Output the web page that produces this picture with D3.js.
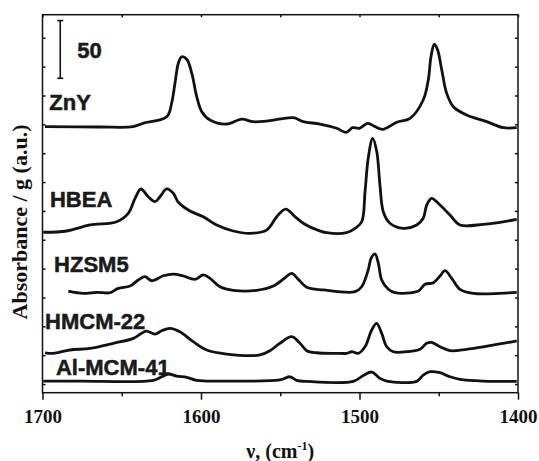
<!DOCTYPE html>
<html>
<head>
<meta charset="utf-8">
<script src="https://cdn.jsdelivr.net/npm/d3@7"></script>
<style>
    body { margin: 0; background: #fff; }
    svg { display: block; }
    .tick line, .domain { stroke: #111; stroke-width: 1.5; }
</style>
</head>
<body>
<svg id="chart" width="539" height="461"></svg>
<script>
"use strict";

// spectra: [wavenumber (cm-1), absorbance incl. stack offset]
var ZnY = [
    [1698.4, 223.0], [1663.7, 222.7], [1642.9, 223.0], [1636.6, 225.9], [1621.6, 231.6],
    [1618.5, 243.5], [1616.4, 260.8], [1614.3, 277.9], [1612.2, 283.6], [1609.0, 281.4],
    [1605.8, 269.2], [1602.7, 249.0], [1599.5, 236.0], [1594.3, 228.8], [1583.8, 225.3],
    [1574.3, 229.6], [1567.2, 227.3], [1556.5, 228.2], [1541.8, 230.8], [1535.5, 227.3],
    [1525.0, 225.3], [1514.4, 221.6], [1508.5, 218.1], [1504.3, 222.1], [1500.1, 221.6],
    [1494.8, 225.9], [1490.2, 223.0], [1485.4, 220.7], [1476.5, 226.8], [1468.1, 230.2],
    [1459.8, 246.1], [1456.6, 263.4], [1454.9, 283.6], [1452.8, 294.4], [1450.7, 289.4],
    [1448.1, 272.1], [1445.0, 251.9], [1440.8, 240.3], [1432.4, 233.1], [1419.8, 227.3],
    [1409.3, 222.1], [1400.8, 222.1]
];
var HBEA = [
    [1699.5, 131.5], [1684.7, 132.6], [1670.0, 137.8], [1653.2, 140.6], [1645.9, 147.9],
    [1641.6, 160.9], [1637.9, 169.0], [1633.3, 162.3], [1629.0, 158.0], [1625.9, 162.3],
    [1621.6, 169.0], [1617.5, 165.3], [1614.3, 157.5], [1606.9, 149.9], [1598.6, 145.0],
    [1590.1, 137.8], [1579.6, 132.6], [1569.1, 130.6], [1558.6, 133.4], [1552.2, 145.0],
    [1546.6, 151.6], [1540.7, 145.0], [1535.5, 139.3], [1529.2, 134.9], [1520.7, 131.1],
    [1508.1, 131.1], [1502.8, 134.9], [1498.6, 140.6], [1496.5, 166.6], [1494.5, 195.6],
    [1491.7, 212.9], [1489.1, 201.3], [1487.1, 172.4], [1485.0, 149.3], [1480.8, 139.3],
    [1472.4, 134.9], [1463.9, 137.8], [1459.8, 143.6], [1457.6, 155.1], [1454.5, 160.9],
    [1449.2, 155.1], [1442.9, 146.4], [1436.6, 137.8], [1421.9, 138.4], [1411.4, 140.1],
    [1400.8, 142.7]
];
var HZSM5 = [
    [1683.7, 80.6], [1674.3, 78.6], [1665.8, 79.5], [1657.4, 79.1], [1652.2, 82.9],
    [1644.8, 84.9], [1639.6, 90.1], [1635.3, 93.0], [1631.1, 89.5], [1623.8, 93.8],
    [1617.5, 95.3], [1611.2, 93.6], [1603.8, 90.7], [1598.6, 94.5], [1594.3, 91.6],
    [1588.0, 84.3], [1579.6, 81.2], [1564.9, 81.2], [1554.4, 84.9], [1547.0, 92.1],
    [1542.8, 95.9], [1538.6, 90.7], [1533.3, 83.8], [1522.8, 81.5], [1502.8, 80.0],
    [1498.6, 84.3], [1494.5, 98.8], [1492.7, 108.9], [1490.2, 112.7], [1488.1, 104.6],
    [1486.0, 90.1], [1481.8, 82.1], [1477.6, 79.1], [1462.9, 80.6], [1458.7, 86.4],
    [1453.4, 87.8], [1449.2, 93.6], [1446.1, 98.2], [1441.8, 91.6], [1436.6, 82.1],
    [1428.2, 78.6], [1411.4, 78.6], [1400.8, 79.5]
];
var HMCM22 = [
    [1698.4, 27.1], [1693.2, 26.6], [1682.7, 29.5], [1670.0, 30.9], [1655.3, 35.3],
    [1642.7, 39.6], [1638.5, 43.1], [1634.7, 45.9], [1629.0, 43.3], [1624.8, 46.2],
    [1619.6, 48.3], [1613.3, 45.3], [1604.9, 36.7], [1596.4, 29.5], [1583.8, 26.0],
    [1562.8, 25.2], [1556.5, 28.9], [1550.2, 35.3], [1542.8, 41.0], [1537.5, 35.3],
    [1533.3, 28.9], [1527.0, 27.1], [1514.4, 26.6], [1508.1, 26.6], [1504.9, 28.0],
    [1500.8, 26.6], [1496.5, 32.3], [1492.3, 46.8], [1489.2, 52.6], [1486.0, 43.9],
    [1482.8, 32.3], [1478.7, 28.0], [1470.2, 28.0], [1461.8, 30.1], [1457.6, 35.3],
    [1454.5, 36.1], [1449.2, 32.3], [1442.9, 28.9], [1432.4, 30.1], [1421.9, 32.3],
    [1411.4, 34.7], [1400.8, 37.5]
];
var AlMCM41 = [
    [1699.5, 2.6], [1676.3, 2.6], [1630.1, 3.2], [1624.8, 6.3], [1620.6, 8.7],
    [1615.3, 6.9], [1609.0, 5.8], [1602.7, 3.2], [1585.9, 2.6], [1550.2, 3.6],
    [1543.8, 6.3], [1539.6, 3.2], [1533.3, 2.3], [1503.9, 2.3], [1497.6, 7.4],
    [1492.3, 10.4], [1487.1, 4.9], [1482.8, 2.6], [1463.9, 2.3], [1459.8, 7.8],
    [1455.5, 10.7], [1449.2, 9.8], [1442.9, 6.3], [1436.6, 4.1], [1421.9, 2.6],
    [1400.8, 2.3]
];

var seriesNames = ["ZnY", "HBEA", "HZSM5", "HMCM-22", "Al-MCM-41"];
var seriesData = [ZnY, HBEA, HZSM5, HMCM22, AlMCM41];

var xMajorTicks = [1700, 1600, 1500, 1400];
var xMinorTicks = [1650, 1550, 1450];
var yTicks = d3.range(0, 301, 25);
var scaleBar = 50;

var svg = d3.select("#chart");

var x = d3.scaleLinear().domain([1700, 1400]).range([42.5, 518]);
var y = d3.scaleLinear().domain([-7.5, 320]).range([392.7, 14.7]);

var x0 = x.range()[0], x1 = x.range()[1];
var y0 = y.range()[0], y1 = y.range()[1];

// ticks: bottom ones point out, the rest point in
var bottom = svg.append("g").attr("transform", "translate(0," + y0 + ")");
bottom.call(d3.axisBottom(x).tickValues(xMajorTicks).tickSize(7).tickSizeOuter(0).tickFormat(d3.format("d")));
bottom.call(function (g) {
    g.select(".domain").remove();
    g.selectAll("text")
        .attr("y", 30.5)
        .attr("dy", null)
        .style("font-family", "'Liberation Serif', 'Times New Roman', serif")
        .style("font-weight", "bold")
        .style("font-size", "19px")
        .attr("fill", "#111");
});
svg.append("g")
    .attr("transform", "translate(0," + y0 + ")")
    .call(d3.axisBottom(x).tickValues(xMinorTicks).tickSize(3.5).tickFormat(""))
    .call(function (g) { g.select(".domain").remove(); });

svg.append("g")
    .attr("transform", "translate(0," + y1 + ")")
    .call(d3.axisTop(x).tickValues(xMajorTicks.concat(xMinorTicks)).tickSize(-2.5).tickFormat(""))
    .call(function (g) { g.select(".domain").remove(); });

svg.append("g")
    .attr("transform", "translate(" + x0 + ",0)")
    .call(d3.axisLeft(y).tickValues(yTicks).tickSize(-3).tickFormat(""))
    .call(function (g) { g.select(".domain").remove(); });

svg.append("g")
    .attr("transform", "translate(" + x1 + ",0)")
    .call(d3.axisRight(y).tickValues(yTicks).tickSize(-3).tickFormat(""))
    .call(function (g) { g.select(".domain").remove(); });

svg.append("rect")
    .attr("x", x0)
    .attr("y", y1)
    .attr("width", x1 - x0)
    .attr("height", y0 - y1)
    .attr("fill", "none")
    .attr("stroke", "#111")
    .attr("stroke-width", 1.5);

var line = d3.line()
    .x(function (d) { return x(d[0]); })
    .y(function (d) { return y(d[1]); })
    .curve(d3.curveCatmullRom.alpha(0.5));

svg.append("g")
    .selectAll("path")
    .data(seriesData)
    .enter()
    .append("path")
    .attr("d", line)
    .attr("fill", "none")
    .attr("stroke", "#111")
    .attr("stroke-width", 2.8)
    .attr("stroke-linejoin", "round");

// sample labels, placed in data units
var labelAt = [[1695.7, 237.4], [1695.3, 153.6], [1692.7, 97.3], [1698.4, 47.4], [1691.5, 7.8]];

svg.append("g")
    .selectAll("text")
    .data(seriesNames)
    .enter()
    .append("text")
    .attr("x", function (d, i) { return x(labelAt[i][0]); })
    .attr("y", function (d, i) { return y(labelAt[i][1]); })
    .attr("fill", "#1a1a1a")
    .attr("stroke", "#1a1a1a")
    .attr("stroke-width", 0.5)
    .style("font-family", "'Liberation Sans', Arial, sans-serif")
    .style("font-weight", "bold")
    .style("font-size", "22px")
    .text(function (d) { return d; });

// scale bar
var barX = x(1688.8);
var barTop = y(314.9), barBottom = y(314.9 - scaleBar);
var bar = svg.append("g").attr("stroke", "#111").attr("stroke-width", 1.6);
bar.append("line").attr("x1", barX).attr("x2", barX).attr("y1", barTop).attr("y2", barBottom);
bar.append("line").attr("x1", barX - 3).attr("x2", barX + 3).attr("y1", barTop).attr("y2", barTop);
bar.append("line").attr("x1", barX - 3).attr("x2", barX + 3).attr("y1", barBottom).attr("y2", barBottom);

svg.append("text")
    .attr("x", x(1678))
    .attr("y", y(282.2))
    .attr("fill", "#1a1a1a")
    .attr("stroke", "#1a1a1a")
    .attr("stroke-width", 0.5)
    .style("font-family", "'Liberation Sans', Arial, sans-serif")
    .style("font-weight", "bold")
    .style("font-size", "22px")
    .text(scaleBar);

// axis titles
var xTitle = svg.append("text")
    .attr("x", (x0 + x1) / 2)
    .attr("y", 458)
    .attr("text-anchor", "middle")
    .attr("fill", "#111")
    .style("font-family", "'Liberation Serif', 'Times New Roman', serif")
    .style("font-weight", "bold")
    .style("font-size", "20px");
xTitle.append("tspan").text("\u03bd, (cm");
xTitle.append("tspan").attr("dy", -8).style("font-size", "12px").text("-1");
xTitle.append("tspan").attr("dy", 8).text(")");

svg.append("text")
    .attr("transform", "translate(27,222) rotate(-90)")
    .attr("text-anchor", "middle")
    .attr("fill", "#111")
    .style("font-family", "'Liberation Serif', 'Times New Roman', serif")
    .style("font-weight", "bold")
    .style("font-size", "22px")
    .text("Absorbance / g (a.u.)");
</script>
</body>
</html>
